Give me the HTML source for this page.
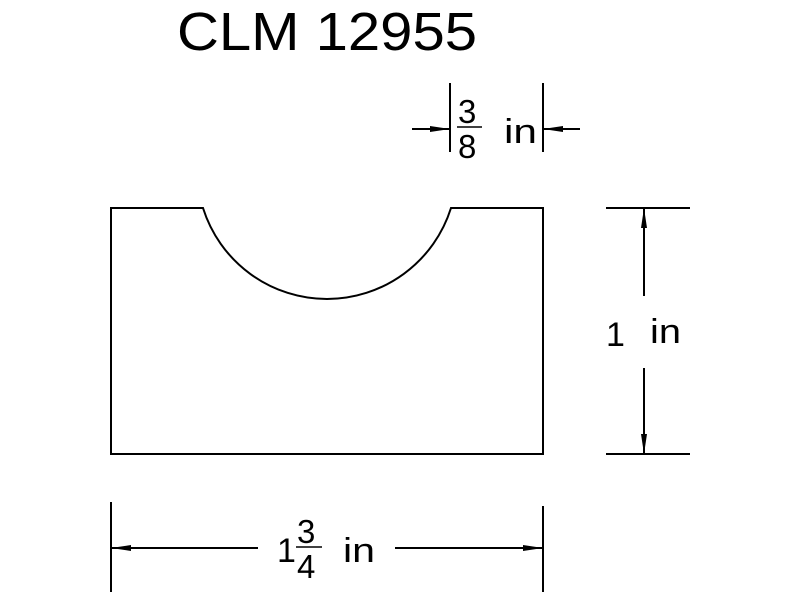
<!DOCTYPE html>
<html><head><meta charset="utf-8"><style>html,body{margin:0;padding:0;background:#fff}svg{display:block}</style></head>
<body>
<svg width="800" height="600" viewBox="0 0 800 600" xmlns="http://www.w3.org/2000/svg">
<g font-family="Liberation Sans, sans-serif" fill="#000">
<text x="177" y="50" font-size="54" textLength="300" lengthAdjust="spacingAndGlyphs">CLM 12955</text>
</g>
<g stroke="#000" stroke-width="2" fill="none">
<path d="M111 208 H203 A130 130 0 0 0 451 208 H543 V454 H111 Z"/>
<line x1="450" y1="83" x2="450" y2="152"/>
<line x1="543" y1="83" x2="543" y2="152"/>
<line x1="412" y1="129" x2="450" y2="129"/>
<line x1="543" y1="129" x2="580" y2="129"/>
<line x1="457" y1="127" x2="482" y2="127" stroke-width="1.5"/>
<line x1="606" y1="208" x2="690" y2="208"/>
<line x1="606" y1="454" x2="690" y2="454"/>
<line x1="644" y1="208" x2="644" y2="296"/>
<line x1="644" y1="368" x2="644" y2="454"/>
<line x1="111" y1="502" x2="111" y2="592"/>
<line x1="543" y1="506" x2="543" y2="592"/>
<line x1="111" y1="548" x2="258" y2="548"/>
<line x1="395" y1="548" x2="543" y2="548"/>
<line x1="296" y1="547" x2="322" y2="547" stroke-width="1.5"/>
</g>
<g fill="#000">
<polygon points="450,129 430,126 430,132"/>
<polygon points="543,129 563,126 563,132"/>
<polygon points="644,208 641,228 647,228"/>
<polygon points="644,454 641,434 647,434"/>
<polygon points="111,548 131,545 131,551"/>
<polygon points="543,548 523,545 523,551"/>
</g>
<g font-family="Liberation Sans, sans-serif" fill="#000" font-size="34">
<text x="458" y="123" font-size="33">3</text>
<text x="458" y="158" font-size="33">8</text>
<text x="504" y="143" textLength="33" lengthAdjust="spacingAndGlyphs">in</text>
<text x="606" y="346">1</text>
<text x="650" y="343" textLength="31" lengthAdjust="spacingAndGlyphs">in</text>
<text x="277" y="562">1</text>
<text x="297" y="543" font-size="33">3</text>
<text x="297" y="578" font-size="33">4</text>
<text x="343" y="562" textLength="32" lengthAdjust="spacingAndGlyphs">in</text>
</g>
</svg>
</body></html>
